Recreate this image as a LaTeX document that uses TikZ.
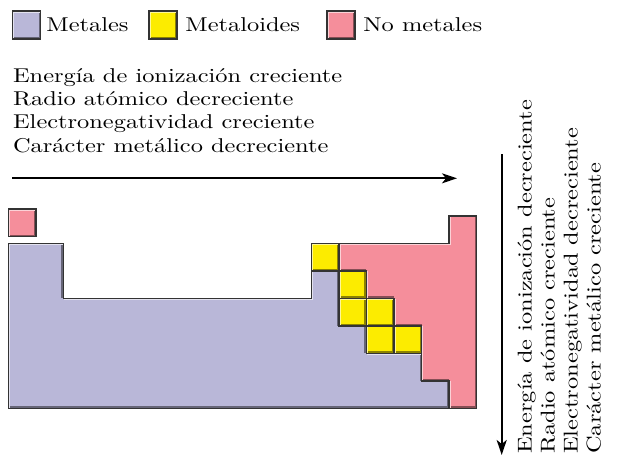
\documentclass[tikz,border=0pt]{standalone}
\usepackage{fontspec}
\usepackage{tikz}
\usetikzlibrary{arrows.meta}
\usepackage{xcolor}

\newfontfamily\widelm{lmroman10-regular.otf}[FakeStretch=1.22]

\definecolor{metalcol}{RGB}{185,183,216}
\definecolor{metaloidcol}{RGB}{252,236,0}
\definecolor{nonmetalcol}{RGB}{245,142,155}

\newcommand{\lmtext}{\widelm\fontsize{10pt}{11.65pt}\selectfont}
% relleno con bisel: #1 color, #2 trayecto cerrado
\newcommand{\bevelshape}[2]{%
  \begin{scope}
    \clip #2;
    \fill[#1] #2;
    \draw[#1!55!black, line width=1pt, shift={(-1,-1)}] #2;
    \draw[#1!40!white, line width=0.6pt, shift={(1,1)}] #2;
  \end{scope}
  \draw[black!80, line width=0.7pt] #2;
}

\begin{document}
\begin{tikzpicture}[
  x=0.5pt, y=-0.5pt,
  txt/.style={font=\lmtext, inner sep=0pt, anchor=base west},
  trend/.style={line width=1pt, -{Stealth[length=7.5pt, width=5pt, inset=2pt]}}
]
\useasboundingbox (0,0) rectangle (620,457);

% ---- leyenda --------------------------------------------------------------
\bevelshape{metalcol}{(12.7,11) rectangle (40.7,39)}
\bevelshape{metaloidcol}{(149,11) rectangle (177,39)}
\bevelshape{nonmetalcol}{(327,11) rectangle (355,39)}
\node[txt] (legmet) at (46,31.7) {Metales};
\node[txt] (legmetd) at (185,31.7) {Metaloides};
\node[txt] (legnomet) at (363,31.7) {No metales};

% ---- tendencias en un periodo ---------------------------------------------
\foreach \t [count=\i] in {Energía de ionización creciente,
    Radio atómico decreciente, Electronegatividad creciente,
    Carácter metálico decreciente}
  \node[txt] (per\i) at (12.7, 82.3+23.3*\i-23.3) {\t};
\coordinate (perA) at (12,178.3);
\coordinate (perB) at (457,178.3);
\draw[trend] (perA) -- (perB);

% ---- tendencias en un grupo -----------------------------------------------
\foreach \t [count=\i] in {Energía de ionización decreciente,
    Radio atómico creciente, Electronegatividad decreciente,
    Carácter metálico creciente}
  \node[txt, rotate=90] (grp\i) at (531.7+23*\i-23, 454) {\t};
\coordinate (grpA) at (501.7,154.3);
\coordinate (grpB) at (501.7,455);
\draw[trend] (grpA) -- (grpB);

% ---- tabla ----------------------------------------------------------------
\bevelshape{nonmetalcol}{(8.3,209) rectangle (35.85,236.5)}
\bevelshape{metalcol}{(8.3,243.3) -- (63.4,243.3) -- (63.4,298.3)
  -- (311.35,298.3) -- (311.35,270.8) -- (338.9,270.8) -- (338.9,325.8)
  -- (366.45,325.8) -- (366.45,353.3) -- (421.55,353.3) -- (421.55,380.8)
  -- (449.1,380.8) -- (449.1,408.3) -- (8.3,408.3) -- cycle}
\bevelshape{nonmetalcol}{(338.9,243.3) -- (449.1,243.3) -- (449.1,215.8)
  -- (476.65,215.8) -- (476.65,408.3) -- (449.1,408.3) -- (449.1,380.8)
  -- (421.55,380.8) -- (421.55,325.8) -- (394,325.8) -- (394,298.3)
  -- (366.45,298.3) -- (366.45,270.8) -- (338.9,270.8) -- cycle}
\foreach \x/\y in {311.35/243.3, 338.9/270.8, 338.9/298.3,
                   366.45/298.3, 366.45/325.8, 394/325.8}{
  \bevelshape{metaloidcol}{(\x,\y) rectangle ++(27.55,27.5)}
}
\end{tikzpicture}
\end{document}
